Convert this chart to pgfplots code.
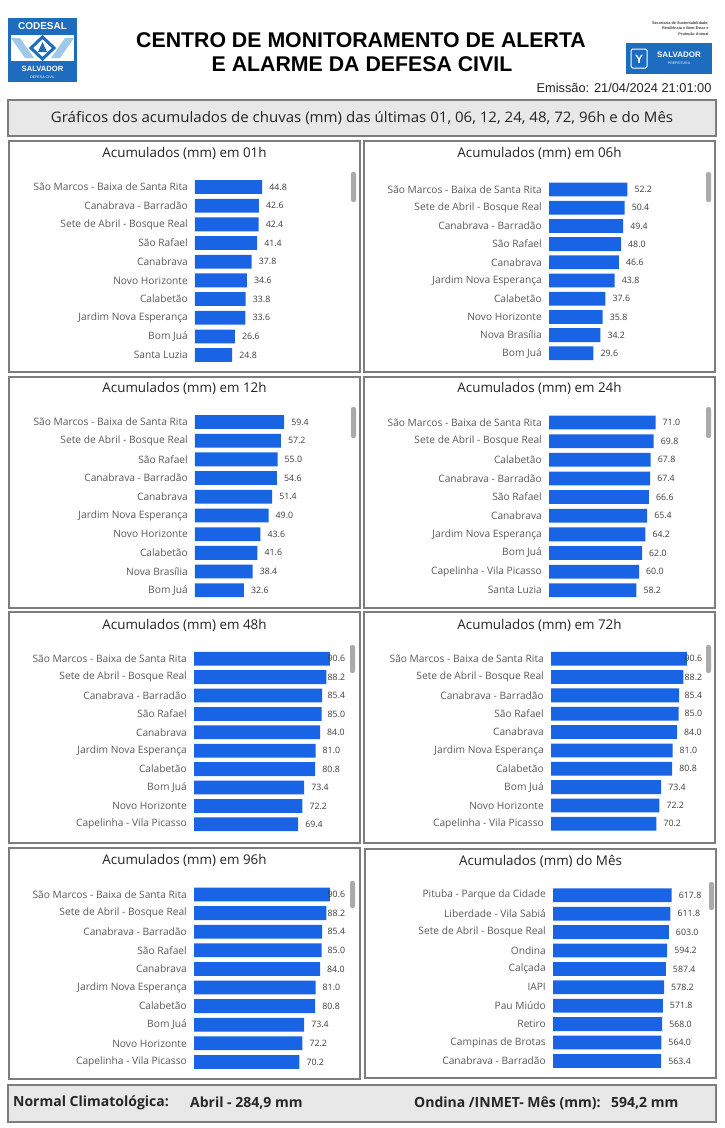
\documentclass[border=0pt]{standalone}
\usepackage{pgfplots}
\usepackage{pgfplotstable}
\pgfplotsset{compat=1.18}
\usepackage{fontspec}
\setmainfont{Open Sans}
\newfontfamily\arial{Liberation Sans}

\definecolor{barblue}{RGB}{24,100,228}
\definecolor{labgray}{RGB}{90,90,90}
\definecolor{numgray}{RGB}{60,60,60}
\definecolor{ttlgray}{RGB}{35,35,35}
\definecolor{frame}{RGB}{125,125,125}
\definecolor{banner}{RGB}{232,232,232}
\definecolor{thumb}{RGB}{170,170,170}
\definecolor{logoblue}{RGB}{30,108,190}
\definecolor{logolight}{RGB}{160,200,235}

\newcommand\lab{\fontsize{10.2}{12}\selectfont}
\newcommand\num{\fontsize{8.8}{10}\selectfont}
\newcommand\ttl{\fontsize{13.4}{16}\selectfont}

% data, one table per panel
\pgfplotstableread[col sep=comma]{
name,v
São Marcos - Baixa de Santa Rita,44.8
Canabrava - Barradão,42.6
Sete de Abril - Bosque Real,42.4
São Rafael,41.4
Canabrava,37.8
Novo Horizonte,34.6
Calabetão,33.8
Jardim Nova Esperança,33.6
Bom Juá,26.6
Santa Luzia,24.8
}\tabA
\pgfplotstableread[col sep=comma]{
name,v
São Marcos - Baixa de Santa Rita,52.2
Sete de Abril - Bosque Real,50.4
Canabrava - Barradão,49.4
São Rafael,48.0
Canabrava,46.6
Jardim Nova Esperança,43.8
Calabetão,37.6
Novo Horizonte,35.8
Nova Brasília,34.2
Bom Juá,29.6
}\tabB
\pgfplotstableread[col sep=comma]{
name,v
São Marcos - Baixa de Santa Rita,59.4
Sete de Abril - Bosque Real,57.2
São Rafael,55.0
Canabrava - Barradão,54.6
Canabrava,51.4
Jardim Nova Esperança,49.0
Novo Horizonte,43.6
Calabetão,41.6
Nova Brasília,38.4
Bom Juá,32.6
}\tabC
\pgfplotstableread[col sep=comma]{
name,v
São Marcos - Baixa de Santa Rita,71.0
Sete de Abril - Bosque Real,69.8
Calabetão,67.8
Canabrava - Barradão,67.4
São Rafael,66.6
Canabrava,65.4
Jardim Nova Esperança,64.2
Bom Juá,62.0
Capelinha - Vila Picasso,60.0
Santa Luzia,58.2
}\tabD
\pgfplotstableread[col sep=comma]{
name,v
São Marcos - Baixa de Santa Rita,90.6
Sete de Abril - Bosque Real,88.2
Canabrava - Barradão,85.4
São Rafael,85.0
Canabrava,84.0
Jardim Nova Esperança,81.0
Calabetão,80.8
Bom Juá,73.4
Novo Horizonte,72.2
Capelinha - Vila Picasso,69.4
}\tabE
\pgfplotstableread[col sep=comma]{
name,v
São Marcos - Baixa de Santa Rita,90.6
Sete de Abril - Bosque Real,88.2
Canabrava - Barradão,85.4
São Rafael,85.0
Canabrava,84.0
Jardim Nova Esperança,81.0
Calabetão,80.8
Bom Juá,73.4
Novo Horizonte,72.2
Capelinha - Vila Picasso,70.2
}\tabF
\pgfplotstableread[col sep=comma]{
name,v
São Marcos - Baixa de Santa Rita,90.6
Sete de Abril - Bosque Real,88.2
Canabrava - Barradão,85.4
São Rafael,85.0
Canabrava,84.0
Jardim Nova Esperança,81.0
Calabetão,80.8
Bom Juá,73.4
Novo Horizonte,72.2
Capelinha - Vila Picasso,70.2
}\tabG
\pgfplotstableread[col sep=comma]{
name,v
Pituba - Parque da Cidade,617.8
Liberdade - Vila Sabiá,611.8
Sete de Abril - Bosque Real,603.0
Ondina,594.2
Calçada,587.4
IAPI,578.2
Pau Miúdo,571.8
Retiro,568.0
Campinas de Brotas,564.0
Canabrava - Barradão,563.4
}\tabH

\pgfplotsset{
  rain/.style={
    anchor=north west, scale only axis, x=1.5pt, xmin=0, xmax=100,
    ymin=-0.5, ymax=9.5, y dir=reverse, enlargelimits=false, clip=false,
    hide x axis, axis y line*=left, y axis line style={draw=none},
    major tick length=0pt, ytick style={draw=none}, ytick={0,...,9},
    yticklabel style={font=\lab, text=labgray, inner sep=0pt, xshift=-7pt},
  },
  % value labels: 7pt right of the bar, kept inside the plot area (#1 edge, #2 label width, #3 pt per mm)
  lbl/.style n args={3}{draw=none, mark=none, point meta=explicit, nodes near coords,
    /pgf/number format/fixed, /pgf/number format/fixed zerofill,
    /pgf/number format/precision=1, /pgf/number format/assume math mode=true,
    visualization depends on={\thisrow{v} \as \rawv},
    nodes near coords style={font=\num, text=numgray, anchor=west, inner sep=0pt,
      xshift={min(7,#1-#2-\rawv*#3)*1pt}}},
  bars/.style={xbar, bar width=13.8pt, bar shift=0pt, fill=barblue, draw=none},
}

\newcommand\rainplot[1]{%
  \addplot[lbl={151}{17.5}{1.5}] table[x=v, y expr=\coordindex, meta=v] {#1};
  \addplot[bars] table[x=v, y expr=\coordindex] {#1};}

\begin{document}
\begin{tikzpicture}[x=1pt,y=1pt]
\fill[white] (0,0) rectangle (724,-1128);
\useasboundingbox (0,0) rectangle (724,-1128);

% ---- header
\fill[logoblue] (8,-18) rectangle (77,-82);
\fill[white] (11,-35) rectangle (74,-61);
\fill[logolight] (11,-38) -- (20,-38) -- (34,-58) -- (25,-58) -- cycle;
\fill[logolight] (74,-38) -- (65,-38) -- (51,-58) -- (60,-58) -- cycle;
\draw[logoblue, line width=3pt] (42.5,-37) -- (54,-48) -- (42.5,-59) -- (31,-48) -- cycle;
\fill[logoblue] (42.5,-42) -- (47,-52) -- (38,-52) -- cycle;
\node[font=\arial\bfseries\fontsize{10}{10}\selectfont, text=white] at (42.5,-26.5) {CODESAL};
\node[font=\arial\bfseries\fontsize{7.6}{8}\selectfont, text=white] at (42.5,-68.5) {SALVADOR};
\node[font=\arial\fontsize{3.6}{4}\selectfont, text=white] at (42.5,-77) {DEFESA CIVIL};

\node[font=\arial\bfseries\fontsize{21.3}{24}\selectfont, text=black] at (361,-40) {CENTRO DE MONITORAMENTO DE ALERTA};
\node[font=\arial\bfseries\fontsize{21.3}{24}\selectfont, text=black] at (362,-64) {E ALARME DA DEFESA CIVIL};

\node[anchor=east, align=right, font=\arial\bfseries\fontsize{3.8}{5.2}\selectfont, text=darkgray] at (712,-29)
  {Secretaria de Sustentabilidade,\\Resiliência e Bem-Estar e\\Proteção Animal};
\fill[logoblue] (626,-43) rectangle (712,-74);
\draw[white, line width=1pt, rounded corners=1.5pt] (631,-49) rectangle (647,-68);
\node[font=\arial\bfseries\fontsize{12}{12}\selectfont, text=white] at (639,-59) {Y};
\node[font=\arial\bfseries\fontsize{8}{8}\selectfont, text=white] at (679,-55) {SALVADOR};
\node[font=\arial\fontsize{3.5}{4}\selectfont, text=white] at (679,-63) {PREFEITURA};

\node[anchor=east, font=\arial\fontsize{12.8}{14}\selectfont, text=ttlgray] at (715,-88) {Emissão: 21/04/2024 21:01:00};

\filldraw[fill=banner, draw=frame, line width=1.5pt] (8,-100) rectangle (716,-136);
\node[font=\fontsize{14.5}{16}\selectfont, text=ttlgray] at (362,-118)
  {\scalebox{1.037}[1]{Gráficos dos acumulados de chuvas (mm) das últimas 01, 06, 12, 24, 48, 72, 96h e do Mês}};

% ---- panel frames
\begin{scope}[frame, line width=1.3pt]
\draw (9,-141) rectangle (360,-372);
\draw (364,-141) rectangle (715,-372);
\draw (9,-377) rectangle (360,-608);
\draw (364,-377) rectangle (715,-608);
\draw (9,-612) rectangle (360,-843);
\draw (364,-612) rectangle (715,-843);
\draw (9,-848) rectangle (360,-1079);
\draw (365,-849) rectangle (716,-1078);
\end{scope}

\node[font=\ttl, text=ttlgray] at (184.5,-153) {Acumulados (mm) em 01h};
\node[font=\ttl, text=ttlgray] at (539.5,-153) {Acumulados (mm) em 06h};
\node[font=\ttl, text=ttlgray] at (184.5,-388) {Acumulados (mm) em 12h};
\node[font=\ttl, text=ttlgray] at (539.5,-388) {Acumulados (mm) em 24h};
\node[font=\ttl, text=ttlgray] at (184.5,-625) {Acumulados (mm) em 48h};
\node[font=\ttl, text=ttlgray] at (539.5,-625) {Acumulados (mm) em 72h};
\node[font=\ttl, text=ttlgray] at (184.5,-860) {Acumulados (mm) em 96h};
\node[font=\ttl, text=ttlgray] at (540.5,-861) {Acumulados (mm) do Mês};

% ---- charts
\begin{axis}[rain, at={(195pt,-177.7pt)}, y=18.67pt, yticklabels from table={\tabA}{name}]
\rainplot{\tabA}
\end{axis}
\begin{axis}[rain, at={(549pt,-180.4pt)}, y=18.2pt, yticklabels from table={\tabB}{name}]
\rainplot{\tabB}
\end{axis}
\begin{axis}[rain, at={(195pt,-412.6pt)}, y=18.7pt, yticklabels from table={\tabC}{name}]
\rainplot{\tabC}
\end{axis}
\begin{axis}[rain, at={(549pt,-413.2pt)}, y=18.64pt, yticklabels from table={\tabD}{name}]
\rainplot{\tabD}
\end{axis}
\begin{axis}[rain, at={(194pt,-649.5pt)}, y=18.4pt, yticklabels from table={\tabE}{name}]
\rainplot{\tabE}
\end{axis}
\begin{axis}[rain, at={(551pt,-649.5pt)}, y=18.35pt, yticklabels from table={\tabF}{name}]
\rainplot{\tabF}
\end{axis}
\begin{axis}[rain, at={(194pt,-885.2pt)}, y=18.6pt, yticklabels from table={\tabG}{name}]
\rainplot{\tabG}
\end{axis}
\begin{axis}[rain, at={(553pt,-886.1pt)}, x=0.192pt, xmax=781, y=18.4pt, yticklabels from table={\tabH}{name}]
\addplot[lbl={155}{23}{0.192}] table[x=v, y expr=\coordindex, meta=v] {\tabH};
\addplot[bars] table[x=v, y expr=\coordindex] {\tabH};
\end{axis}

% ---- scroll bars
\begin{scope}[thumb, rounded corners=2pt]
\fill (351,-172) rectangle (356,-202);
\fill (706,-172) rectangle (711,-202);
\fill (351,-407) rectangle (356,-438);
\fill (706,-407) rectangle (711,-438);
\fill (350,-645) rectangle (355,-673);
\fill (706,-645) rectangle (711,-673);
\fill (350,-881) rectangle (355,-908);
\fill (709,-882) rectangle (714,-910);
\end{scope}

% ---- footer
\filldraw[fill=banner, draw=frame, line width=1.5pt] (8,-1085) rectangle (716,-1122);
\begin{scope}[font=\bfseries\fontsize{14}{16}\selectfont, text=black!85]
\node[anchor=west, inner sep=0pt] at (13,-1103) {Normal Climatológica:};
\node[anchor=west, inner sep=0pt] at (190,-1103) {Abril - 284,9 mm};
\node[anchor=west, inner sep=0pt] at (414,-1103) {Ondina /INMET- Mês (mm):};
\node[anchor=west, inner sep=0pt] at (611,-1103) {594,2 mm};
\end{scope}
\end{tikzpicture}
\end{document}
